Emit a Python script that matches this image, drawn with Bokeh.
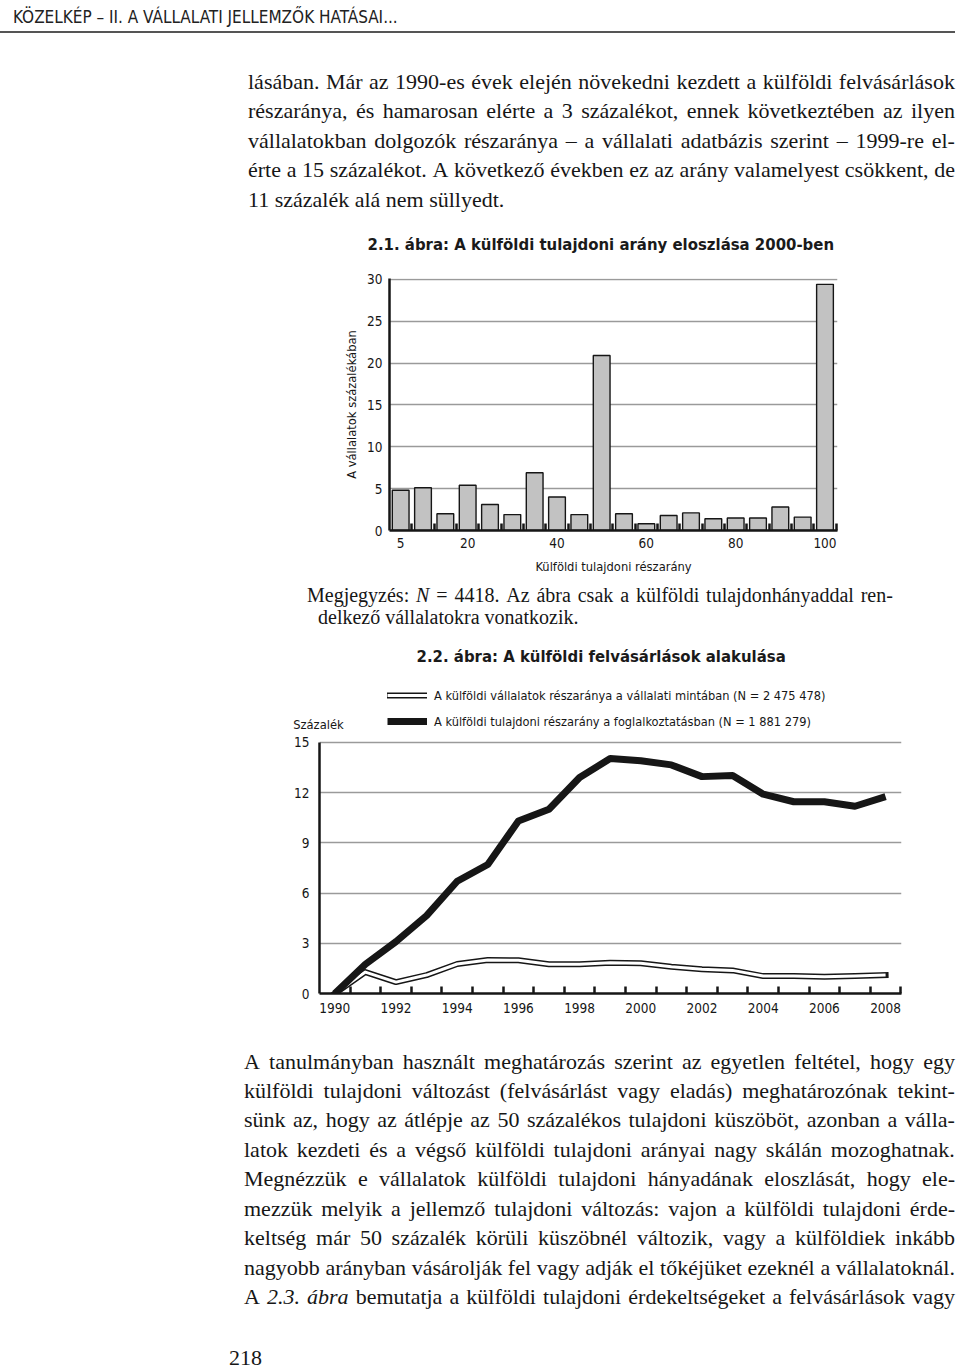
from bokeh.plotting import figure
from bokeh.models import (Div, Label, Legend, LegendItem, FixedTicker, Range1d, Title)
from bokeh.layouts import column
from bokeh.embed import file_html
from bokeh.resources import INLINE

# ---------------- data ----------------
BAR_BINS = [5, 10, 15, 20, 25, 30, 35, 40, 45, 50, 55, 60, 65, 70, 75, 80, 85, 90, 95, 100]
BAR_SHARES = [4.8, 5.1, 2.0, 5.4, 3.1, 1.9, 6.9, 4.0, 1.9, 20.9,
              2.0, 0.8, 1.8, 2.1, 1.4, 1.5, 1.5, 2.8, 1.6, 29.4]
BAR_Y_TICKS = [0, 5, 10, 15, 20, 25, 30]
BAR_X_LABEL_TICKS = [5, 20, 40, 60, 80, 100]

YEARS = [1990, 1991, 1992, 1993, 1994, 1995, 1996, 1997, 1998, 1999,
         2000, 2001, 2002, 2003, 2004, 2005, 2006, 2007, 2008]
FIRM_SHARE = [0.0, 1.28, 0.68, 1.1, 1.76, 2.0, 1.98, 1.75, 1.75, 1.83,
              1.8, 1.6, 1.45, 1.38, 1.04, 1.04, 1.0, 1.05, 1.1]
EMPL_SHARE = [0.0, 1.75, 3.1, 4.65, 6.7, 7.7, 10.3, 11.0, 12.9, 14.03,
              13.9, 13.65, 12.95, 13.02, 11.9, 11.45, 11.45, 11.18, 11.76]
LINE_Y_TICKS = [0, 3, 6, 9, 12, 15]
LINE_X_LABEL_TICKS = [1990, 1992, 1994, 1996, 1998, 2000, 2002, 2004, 2006, 2008]

TITLE_1 = "2.1. ábra: A külföldi tulajdoni arány eloszlása 2000-ben"
TITLE_2 = "2.2. ábra: A külföldi felvásárlások alakulása"
Y_LABEL_1 = "A vállalatok százalékában"
X_LABEL_1 = "Külföldi tulajdoni részarány"
Y_LABEL_2 = "Százalék"
LEGEND_LABELS = ["A külföldi vállalatok részaránya a vállalati mintában (N = 2 475 478)",
                 "A külföldi tulajdoni részarány a foglalkoztatásban (N = 1 881 279)"]

HEADER = "KÖZELKÉP – II. A VÁLLALATI JELLEMZŐK HATÁSAI..."
TOP_LINES = [
    "lásában. Már az 1990-es évek elején növekedni kezdett a külföldi felvásárlások",
    "részaránya, és hamarosan elérte a 3 százalékot, ennek következtében az ilyen",
    "vállalatokban dolgozók részaránya – a vállalati adatbázis szerint – 1999-re el-",
    "érte a 15 százalékot. A következő években ez az arány valamelyest csökkent, de",
    "11 százalék alá nem süllyedt.",
]
NOTE_LINES = [
    "Megjegyzés: *N* = 4418. Az ábra csak a külföldi tulajdonhányaddal ren-",
    "delkező vállalatokra vonatkozik.",
]
BOTTOM_LINES = [
    "A tanulmányban használt meghatározás szerint az egyetlen feltétel, hogy egy",
    "külföldi tulajdoni változást (felvásárlást vagy eladás) meghatározónak tekint-",
    "sünk az, hogy az átlépje az 50 százalékos tulajdoni küszöböt, azonban a válla-",
    "latok kezdeti és a végső külföldi tulajdoni arányai nagy skálán mozoghatnak.",
    "Megnézzük e vállalatok külföldi tulajdoni hányadának eloszlását, hogy ele-",
    "mezzük melyik a jellemző tulajdoni változás: vajon a külföldi tulajdoni érde-",
    "keltség már 50 százalék körüli küszöbnél változik, vagy a külföldiek inkább",
    "nagyobb arányban vásárolják fel vagy adják el tőkéjüket ezeknél a vállalatoknál.",
    "A *2.3. ábra* bemutatja a külföldi tulajdoni érdekeltségeket a felvásárlások vagy",
]
PAGE_NUMBER = "218"

# ---------------- styles ----------------
NARROW = "DejaVu Sans Condensed, DejaVu Sans, sans-serif"
SERIF = "Liberation Serif, serif"
INK = "#161616"
PAGE_W = 944
TICK_FS = "13.5px"
LABEL_FS = "12.8px"
TITLE_FS = "16.6px"


def words_html(line):
    out, italic = [], False
    for w in line.split(" "):
        parts, buf = [], ""
        for ch in w:
            if ch == "*":
                if buf:
                    parts.append((buf, italic))
                    buf = ""
                italic = not italic
            else:
                buf += ch
        if buf:
            parts.append((buf, italic))
        out.append("".join(f"<i>{t}</i>" if it else t for t, it in parts))
    return out


def text_line(line, left, baseline, size, family, width=None, color=INK):
    top = baseline - 0.84 * size
    style = (f"position:absolute;left:{left}px;top:{top:.1f}px;font-family:{family};"
             f"font-size:{size}px;line-height:{size}px;color:{color};white-space:nowrap;")
    words = words_html(line)
    if width is not None:
        style += f"width:{width}px;display:flex;justify-content:space-between;"
        inner = "".join(f"<span>{w}</span>" for w in words)
    else:
        inner = " ".join(words)
    return f'<div style="{style}">{inner}</div>'


def box(children, h):
    return (f'<div style="position:relative;width:{PAGE_W}px;height:{h}px;">'
            + "".join(children) + "</div>")


def no_frame_align(p):
    if "frame_align" in p.properties():
        p.frame_align = False


# ---- top text block ----
TOP_H = 198
top_children = [
    text_line(HEADER, 8, 18.7, 17, NARROW, color="#222"),
    '<div style="position:absolute;left:-8px;top:25.7px;width:958px;height:2px;background:#555;"></div>',
]
for i, ln in enumerate(TOP_LINES):
    last = i == len(TOP_LINES) - 1
    top_children.append(text_line(ln, 243, 84 + 29.5 * i, 22, SERIF, None if last else 707))
div_top = Div(text=box(top_children, TOP_H), width=PAGE_W, height=TOP_H)

# ---- bar chart ----
title1 = Title(text=TITLE_1, align="left", offset=-22, standoff=49, text_font=NARROW,
               text_font_size=TITLE_FS, text_font_style="bold", text_color="#1a1a1a")
p1 = figure(width=PAGE_W, height=368, x_range=Range1d(2.5, 102.8), y_range=Range1d(0, 30.1),
            title=title1, output_backend="svg", toolbar_location=None,
            min_border_left=389, min_border_right=107, min_border_top=0, min_border_bottom=46,
            outline_line_color=None, background_fill_color="white", border_fill_color=None)
no_frame_align(p1)
p1.vbar(x=BAR_BINS, top=BAR_SHARES, width=3.75, bottom=0,
        fill_color="#c2c2c2", line_color=INK, line_width=1.4)
p1.xgrid.visible = False
p1.ygrid.ticker = FixedTicker(ticks=BAR_Y_TICKS[1:])
p1.ygrid.grid_line_color = "#9a9a9a"
p1.ygrid.grid_line_width = 1.3

ya = p1.yaxis[0]
ya.ticker = FixedTicker(ticks=BAR_Y_TICKS, minor_ticks=[])
ya.major_tick_line_color = None
ya.minor_tick_line_color = None
ya.axis_line_width = 2.5
ya.axis_line_color = INK
ya.major_label_text_font = NARROW
ya.major_label_text_font_size = TICK_FS
ya.major_label_text_color = INK
ya.major_label_standoff = 1
ya.axis_label = Y_LABEL_1
ya.axis_label_text_font = NARROW
ya.axis_label_text_font_size = LABEL_FS
ya.axis_label_text_font_style = "normal"
ya.axis_label_text_color = INK
ya.axis_label_standoff = 5

# labels at 5, 20, ... ; short inward marks at the bin boundaries (minor ticks)
bin_half = (BAR_BINS[1] - BAR_BINS[0]) / 2
xa = p1.xaxis[0]
xa.ticker = FixedTicker(ticks=BAR_X_LABEL_TICKS, minor_ticks=[b + bin_half for b in BAR_BINS])
xa.major_tick_line_color = None
xa.minor_tick_in = 7
xa.minor_tick_out = 0
xa.minor_tick_line_width = 2.5
xa.minor_tick_line_color = INK
xa.axis_line_width = 2.5
xa.axis_line_color = INK
xa.major_label_standoff = 1
xa.major_label_text_font = NARROW
xa.major_label_text_font_size = TICK_FS
xa.major_label_text_color = INK
xa.axis_label = X_LABEL_1
xa.axis_label_text_font = NARROW
xa.axis_label_text_font_size = LABEL_FS
xa.axis_label_text_font_style = "normal"
xa.axis_label_text_color = INK
xa.axis_label_standoff = 8

# ---- note ----
NOTE_H = 57
note_children = [
    text_line(NOTE_LINES[0], 302, 21, 20, SERIF, 586),
    text_line(NOTE_LINES[1], 313, 43, 20, SERIF),
]
div_note = Div(text=box(note_children, NOTE_H), width=PAGE_W, height=NOTE_H)

# ---- line chart ----
title2 = Title(text=TITLE_2, align="left", offset=97, standoff=2, text_font=NARROW,
               text_font_size=TITLE_FS, text_font_style="bold", text_color="#1a1a1a")
p2 = figure(width=PAGE_W, height=387, x_range=Range1d(1989.5, 2008.52), y_range=Range1d(0, 18.63),
            title=title2, output_backend="svg", toolbar_location=None,
            min_border_left=319, min_border_right=43, min_border_top=0, min_border_bottom=37,
            outline_line_color=None, background_fill_color="white", border_fill_color=None)
no_frame_align(p2)
p2.xgrid.visible = False
p2.ygrid.ticker = FixedTicker(ticks=LINE_Y_TICKS[1:])
p2.ygrid.grid_line_color = "#9a9a9a"
p2.ygrid.grid_line_width = 1.3

r_out = p2.line(YEARS, FIRM_SHARE, line_color=INK, line_width=6, line_join="round", line_cap="square")
r_in = p2.line(YEARS, FIRM_SHARE, line_color="white", line_width=3, line_join="round")
r_emp = p2.line(YEARS, EMPL_SHARE, line_color=INK, line_width=7, line_join="round")

ya2 = p2.yaxis[0]
ya2.ticker = FixedTicker(ticks=LINE_Y_TICKS, minor_ticks=[])
ya2.bounds = (LINE_Y_TICKS[0], LINE_Y_TICKS[-1])
ya2.major_tick_line_color = None
ya2.minor_tick_line_color = None
ya2.axis_line_width = 2.5
ya2.axis_line_color = INK
ya2.major_label_text_font = NARROW
ya2.major_label_text_font_size = TICK_FS
ya2.major_label_text_color = INK
ya2.major_label_standoff = 4

year_half = (YEARS[1] - YEARS[0]) / 2
xa2 = p2.xaxis[0]
xa2.ticker = FixedTicker(ticks=LINE_X_LABEL_TICKS, minor_ticks=[y + year_half for y in YEARS])
xa2.major_tick_line_color = None
xa2.minor_tick_in = 7
xa2.minor_tick_out = 0
xa2.minor_tick_line_width = 2.5
xa2.minor_tick_line_color = INK
xa2.axis_line_width = 2.5
xa2.axis_line_color = INK
xa2.major_label_standoff = 3
xa2.major_label_text_font = NARROW
xa2.major_label_text_font_size = TICK_FS
xa2.major_label_text_color = INK

# "Százalék" unit label, placed relative to the top edge of the plot frame
p2.add_layout(Label(x=-26.3, y=-43, x_units="screen", y_units="screen", text=Y_LABEL_2,
                    text_font=NARROW, text_font_size=LABEL_FS, text_align="left",
                    text_baseline="alphabetic", text_color=INK), "above")

legend = Legend(items=[LegendItem(label=LEGEND_LABELS[0], renderers=[r_out, r_in]),
                       LegendItem(label=LEGEND_LABELS[1], renderers=[r_emp])],
                location=(68, 262), orientation="vertical",
                glyph_width=40, glyph_height=20, label_standoff=7, spacing=6,
                padding=0, margin=0, border_line_color=None, background_fill_alpha=0,
                label_text_font=NARROW, label_text_font_size="12.7px", label_text_color=INK)
p2.add_layout(legend, "center")

# ---- bottom text ----
BOT_H = 324
bot_children = []
for i, ln in enumerate(BOTTOM_LINES):
    bot_children.append(text_line(ln, 239, 34 + 29.45 * i, 22, SERIF, 711))
bot_children.append(text_line(PAGE_NUMBER, 224, 330, 22, SERIF))
div_bot = Div(text=box(bot_children, BOT_H), width=PAGE_W, height=BOT_H)

page = column(div_top, p1, div_note, p2, div_bot, spacing=0)

with open("out.html", "w") as f:
    f.write(file_html(page, INLINE, title="2.1–2.2. ábra"))
